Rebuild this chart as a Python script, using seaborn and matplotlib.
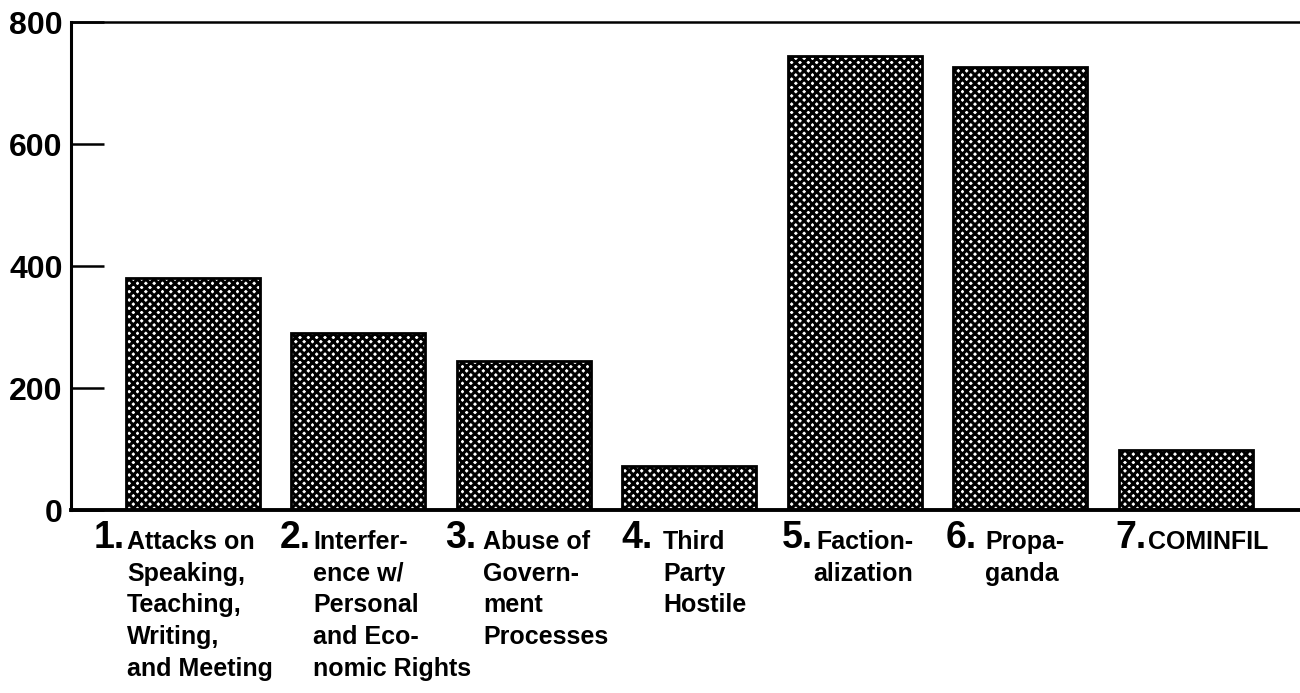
import numpy as np
import pandas as pd
import seaborn as sns
import matplotlib.pyplot as plt

# data
categories = ['Attacks', 'Interference', 'Abuse', 'Third Party', 'Factionalization', 'Propaganda', 'COMINFIL']
counts = [380, 290, 245, 72, 745, 727, 98]
numbers = ['1.', '2.', '3.', '4.', '5.', '6.', '7.']
labels = [
    'Attacks on\nSpeaking,\nTeaching,\nWriting,\nand Meeting',
    'Interfer-\nence w/\nPersonal\nand Eco-\nnomic Rights',
    'Abuse of\nGovern-\nment\nProcesses',
    'Third\nParty\nHostile',
    'Faction-\nalization',
    'Propa-\nganda',
    'COMINFIL',
]
yticks = [0, 200, 400, 600, 800]

# label placement relative to bar centre (layout only)
text_dx = [-0.396, -0.272, -0.245, -0.157, -0.25, -0.211, -0.227]
num_dx = [-0.408, -0.284, -0.283, -0.222, -0.25, -0.26, -0.234]
text_align = ['left', 'left', 'left', 'left', 'right', 'left', 'left']

sns.set_style('white')
plt.rcParams['font.family'] = ['Liberation Sans', 'DejaVu Sans']
plt.rcParams['font.weight'] = 'bold'
plt.rcParams['text.color'] = 'black'
plt.rcParams['ytick.color'] = 'black'
plt.rcParams['hatch.linewidth'] = 2.2
plt.rcParams['hatch.color'] = 'black'

df = pd.DataFrame({'category': categories, 'count': counts})

fig = plt.figure(figsize=(13, 6.93), dpi=100)
ax = fig.add_axes([71 / 1300, 1 - 510 / 693, 1 - 71 / 1300, (510 - 22) / 693])

sns.barplot(data=df, x='category', y='count', color='white', saturation=1,
            width=0.81, edgecolor='black', linewidth=2, ax=ax)
for bar in ax.patches:
    bar.set_hatch('xxxx')
    bar.set_facecolor('white')

ax.set_xlim(-0.735, 6.69)
ax.set_ylim(0, 800)
ax.set_yticks(yticks)
ax.set_yticklabels([str(v) for v in yticks], fontsize=23, fontweight='bold')
ax.tick_params(axis='y', direction='in', length=24, width=1.8, pad=6, left=True)
ax.set_xticks([])
ax.set_xlabel('')
ax.set_ylabel('')

for side in ['left', 'top', 'bottom']:
    ax.spines[side].set_visible(True)
    ax.spines[side].set_color('black')
ax.spines['left'].set_linewidth(2.2)
ax.spines['top'].set_linewidth(1.8)
ax.spines['bottom'].set_linewidth(2.8)
ax.spines['right'].set_visible(False)

for i in range(len(categories)):
    ax.annotate(numbers[i], xy=(i + num_dx[i], 0), xycoords=('data', 'axes fraction'),
                xytext=(0, -27.5), textcoords='offset points',
                ha='right', va='baseline', fontsize=27, fontweight='bold')
    ax.annotate(labels[i], xy=(i + text_dx[i], 0), xycoords=('data', 'axes fraction'),
                xytext=(0, -14.5), textcoords='offset points',
                ha='left', va='top', multialignment=text_align[i],
                fontsize=18, fontweight='bold', linespacing=1.4)

fig.savefig('out.png', dpi=100)
